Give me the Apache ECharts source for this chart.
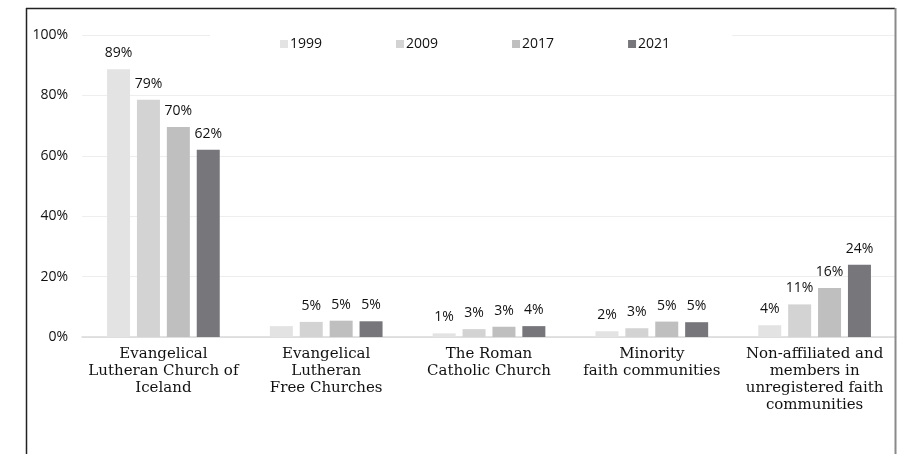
<!DOCTYPE html>
<html>
<head>
<meta charset="utf-8">
<script src="https://cdn.jsdelivr.net/npm/echarts@6/dist/echarts.min.js"></script>
<style>
html,body{margin:0;padding:0;background:#fff;}
#c{width:898px;height:454px;}
</style>
</head>
<body>
<div id="c"></div>
<script>
const categories = [
  'Evangelical\nLutheran Church of\nIceland',
  'Evangelical\nLutheran\nFree Churches',
  'The Roman\nCatholic Church',
  'Minority\nfaith communities',
  'Non-affiliated and\nmembers in\nunregistered faith\ncommunities'
];
const years = ['1999', '2009', '2017', '2021'];
const v1999 = [88.7, 3.6, 1.2, 1.9, 3.9];
const v2009 = [78.6, 5.0, 2.6, 2.9, 10.8];
const v2017 = [69.5, 5.4, 3.4, 5.1, 16.2];
const v2021 = [62.0, 5.2, 3.6, 4.9, 23.9];
// labels not shown in the reference: [seriesIndex, categoryIndex]
const hiddenLabels = [[0, 1]];
const yTicks = [0, 20, 40, 60, 80, 100];

const seriesValues = [v1999, v2009, v2017, v2021];
const colors = ['#e3e3e3', '#d3d3d3', '#bfbfbf', '#76767b'];
const numFont = '"Open Sans", sans-serif';
const catFont = '"DejaVu Serif", serif';

const chart = echarts.init(document.getElementById('c'), null, {renderer: 'canvas'});
const series = years.map((y, si) => ({
  name: y,
  type: 'bar',
  barWidth: 23,
  barGap: '30%',
  itemStyle: {color: colors[si]},
  data: seriesValues[si].map((v, ci) => {
    const hide = hiddenLabels.some(h => h[0] === si && h[1] === ci);
    return hide ? {value: v, label: {show: false}} : v;
  }),
  label: {
    show: true,
    position: 'top',
    distance: 9,
    color: '#111',
    fontFamily: numFont,
    fontSize: 14,
    formatter: p => Math.round(p.value) + '%'
  }
}));

chart.setOption({
  animation: false,
  backgroundColor: '#fff',
  grid: {left: 82, right: 2, top: 35, bottom: 117, containLabel: false},
  legend: {
    data: years,
    left: 210,
    top: 27,
    itemWidth: 8,
    itemHeight: 8,
    itemGap: 74,
    padding: [10, 62, 10, 70],
    backgroundColor: '#fff',
    icon: 'rect',
    textStyle: {color: '#111', fontFamily: numFont, fontSize: 14, padding: [0, 0, 0, -3]}
  },
  xAxis: {
    type: 'category',
    data: categories,
    axisTick: {show: false},
    axisLine: {show: true, lineStyle: {color: '#d9d9d9', width: 1.5}},
    axisLabel: {
      interval: 0,
      margin: 9,
      color: '#111',
      fontFamily: catFont,
      fontSize: 15,
      lineHeight: 17
    }
  },
  yAxis: {
    type: 'value',
    min: yTicks[0],
    max: yTicks[yTicks.length - 1],
    interval: yTicks[1] - yTicks[0],
    axisLine: {show: false},
    axisTick: {show: false},
    splitLine: {lineStyle: {color: '#eeeeee', width: 1}},
    axisLabel: {
      formatter: '{value}%',
      margin: 14,
      color: '#111',
      fontFamily: numFont,
      fontSize: 14
    }
  },
  graphic: [
    {type: 'line', z: 100, shape: {x1: 26, y1: 8.5, x2: 895, y2: 8.5}, style: {stroke: '#222', lineWidth: 1.5}},
    {type: 'line', z: 100, shape: {x1: 26.5, y1: 8, x2: 26.5, y2: 454}, style: {stroke: '#222', lineWidth: 1.5}},
    {type: 'line', z: 100, shape: {x1: 895.5, y1: 8, x2: 895.5, y2: 454}, style: {stroke: '#8a8a8a', lineWidth: 2}}
  ],
  series: series
});
</script>
</body>
</html>
